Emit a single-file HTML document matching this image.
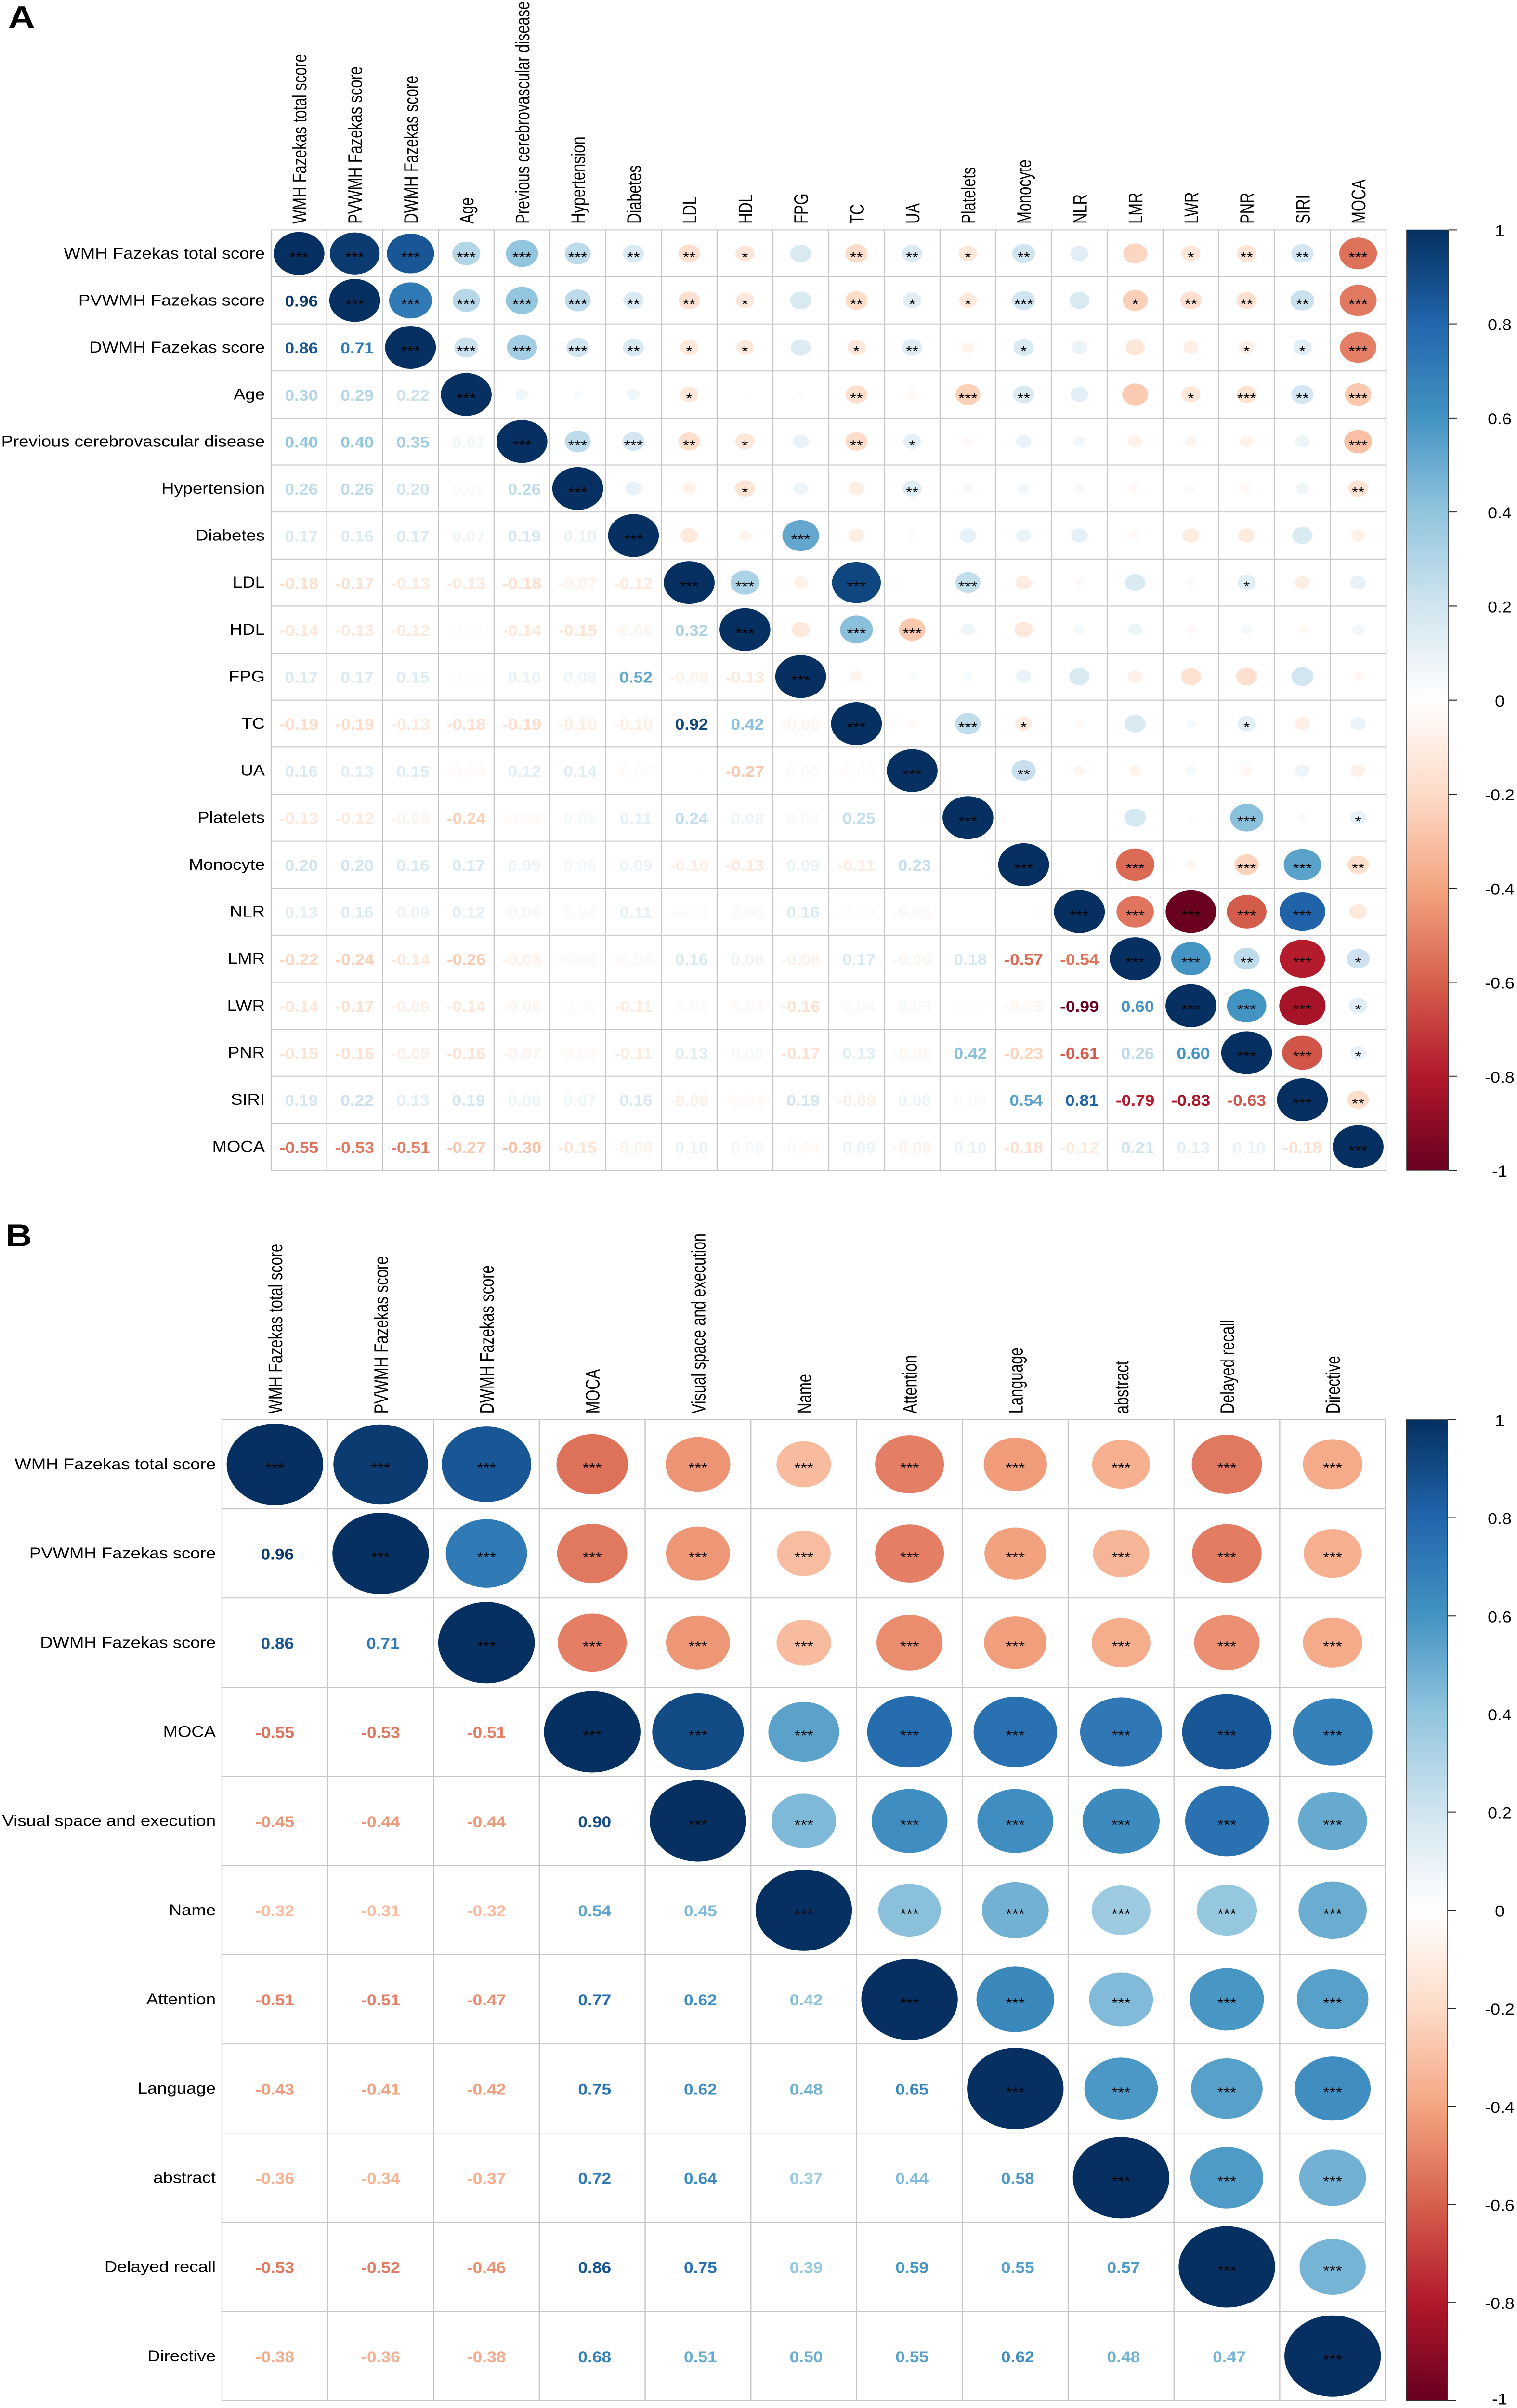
<!DOCTYPE html>
<html lang="en">
<head>
<meta charset="utf-8">
<title>Correlation matrices A and B</title>
<style>
  html, body { margin: 0; padding: 0; background: #ffffff; width: 3150px; height: 5928px; }
  svg { display: block; width: 3150px; height: 5928px; }
  text { font-family: "Liberation Sans", Arial, sans-serif; }
</style>
</head>
<body>
<svg id="figure" xmlns="http://www.w3.org/2000/svg" width="3150" height="5928" viewBox="0 0 3150 5928">
  <rect x="0" y="0" width="3150" height="5928" fill="#ffffff"/>
  <text x="17" y="69" font-size="77" font-weight="700" fill="#000">A</text>
  <text x="11" y="3068" font-size="77" font-weight="700" fill="#000">B</text>
  <defs id="defs"></defs>
</svg>
<script>
// ---------- Panel A data ----------
const panelALabels = ["WMH Fazekas total score","PVWMH Fazekas score","DWMH Fazekas score","Age","Previous cerebrovascular disease","Hypertension","Diabetes","LDL","HDL","FPG","TC","UA","Platelets","Monocyte","NLR","LMR","LWR","PNR","SIRI","MOCA"];
// lower triangle correlations, row by row
const panelAValues = [
  [],
  [0.96],
  [0.86,0.71],
  [0.30,0.29,0.22],
  [0.40,0.40,0.35,0.07],
  [0.26,0.26,0.20,0.03,0.26],
  [0.17,0.16,0.17,0.07,0.19,0.10],
  [-0.18,-0.17,-0.13,-0.13,-0.18,-0.07,-0.12],
  [-0.14,-0.13,-0.12,-0.01,-0.14,-0.15,-0.06,0.32],
  [0.17,0.17,0.15,0.02,0.10,0.08,0.52,-0.08,-0.13],
  [-0.19,-0.19,-0.13,-0.18,-0.19,-0.10,-0.10,0.92,0.42,-0.06],
  [0.16,0.13,0.15,-0.04,0.12,0.14,-0.03,0.01,-0.27,0.03,-0.03],
  [-0.13,-0.12,-0.06,-0.24,-0.04,0.05,0.11,0.24,0.08,0.04,0.25,0.01],
  [0.20,0.20,0.16,0.17,0.09,0.06,0.09,-0.10,-0.13,0.09,-0.11,0.23,0.01],
  [0.13,0.16,0.09,0.12,0.06,0.04,0.11,-0.03,0.05,0.16,-0.03,-0.05,0.01,0.01],
  [-0.22,-0.24,-0.14,-0.26,-0.08,-0.04,-0.04,0.16,0.08,-0.08,0.17,-0.06,0.18,-0.57,-0.54],
  [-0.14,-0.17,-0.09,-0.14,-0.06,-0.03,-0.11,0.03,-0.04,-0.16,0.04,0.05,0.02,-0.05,-0.99,0.60],
  [-0.15,-0.16,-0.09,-0.16,-0.07,-0.04,-0.11,0.13,0.05,-0.17,0.13,-0.05,0.42,-0.23,-0.61,0.26,0.60],
  [0.19,0.22,0.13,0.19,0.08,0.07,0.16,-0.09,-0.04,0.19,-0.09,0.08,0.03,0.54,0.81,-0.79,-0.83,-0.63],
  [-0.55,-0.53,-0.51,-0.27,-0.30,-0.15,-0.08,0.10,0.06,-0.04,0.09,-0.08,0.10,-0.18,-0.12,0.21,0.13,0.10,-0.18]
];
// upper triangle significance stars (count), row by row, starting right of the diagonal
const panelAStars = [
  [3,3,3,3,3,2,2,1,0,2,2,1,2,0,0,1,2,2,3],
  [3,3,3,3,2,2,1,0,2,1,1,3,0,1,2,2,2,3],
  [3,3,3,2,1,1,0,1,2,0,1,0,0,0,1,1,3],
  [0,0,0,1,0,0,2,0,3,2,0,0,1,3,2,3],
  [3,3,2,1,0,2,1,0,0,0,0,0,0,0,3],
  [0,0,1,0,0,2,0,0,0,0,0,0,0,2],
  [0,0,3,0,0,0,0,0,0,0,0,0,0],
  [3,0,3,0,3,0,0,0,0,1,0,0],
  [0,3,3,0,0,0,0,0,0,0,0],
  [0,0,0,0,0,0,0,0,0,0],
  [0,3,1,0,0,0,1,0,0],
  [0,2,0,0,0,0,0,0],
  [0,0,0,0,3,0,1],
  [0,3,0,3,3,2],
  [3,3,3,3,0],
  [3,2,3,1],
  [3,3,1],
  [3,1],
  [2],
  []
];

// ---------- Panel B data ----------
const panelBLabels = ["WMH Fazekas total score","PVWMH Fazekas score","DWMH Fazekas score","MOCA","Visual space and execution","Name","Attention","Language","abstract","Delayed recall","Directive"];
const panelBValues = [
  [],
  [0.96],
  [0.86,0.71],
  [-0.55,-0.53,-0.51],
  [-0.45,-0.44,-0.44,0.90],
  [-0.32,-0.31,-0.32,0.54,0.45],
  [-0.51,-0.51,-0.47,0.77,0.62,0.42],
  [-0.43,-0.41,-0.42,0.75,0.62,0.48,0.65],
  [-0.36,-0.34,-0.37,0.72,0.64,0.37,0.44,0.58],
  [-0.53,-0.52,-0.46,0.86,0.75,0.39,0.59,0.55,0.57],
  [-0.38,-0.36,-0.38,0.68,0.51,0.50,0.55,0.62,0.48,0.47]
];
const panelBStars = [
  [3,3,3,3,3,3,3,3,3,3],
  [3,3,3,3,3,3,3,3,3],
  [3,3,3,3,3,3,3,3],
  [3,3,3,3,3,3,3],
  [3,3,3,3,3,3],
  [3,3,3,3,3],
  [3,3,3,3],
  [3,3,3],
  [3,3],
  [3],
  []
];

// ---------- Colour bar ticks ----------
const colorbarTicks = [1,0.8,0.6,0.4,0.2,0,-0.2,-0.4,-0.6,-0.8,-1];
const colorbarTickLabels = ["1","0.8","0.6","0.4","0.2","0","-0.2","-0.4","-0.6","-0.8","-1"];
// RdBu palette from value -1 to +1 in equal steps
const palette = ["#67001F","#B2182B","#D6604D","#F4A582","#FDDBC7","#FFFFFF","#D1E5F0","#92C5DE","#4393C3","#2166AC","#053061"];

const NS = "http://www.w3.org/2000/svg";
const svg = document.getElementById("figure");
const defs = document.getElementById("defs");

function make(tag, attrs, parent, content) {
  const el = document.createElementNS(NS, tag);
  for (const k in attrs) el.setAttribute(k, attrs[k]);
  if (content !== undefined) el.textContent = content;
  (parent || svg).appendChild(el);
  return el;
}
function hexRgb(h) {
  return [parseInt(h.slice(1,3),16), parseInt(h.slice(3,5),16), parseInt(h.slice(5,7),16)];
}
function colorOf(v) {
  const t = Math.max(0, Math.min(1, (v + 1) / 2)) * (palette.length - 1);
  const i = Math.min(palette.length - 2, Math.floor(t));
  const f = t - i;
  const a = hexRgb(palette[i]);
  const b = hexRgb(palette[i + 1]);
  const c = a.map(function (x, k) { return Math.round(x + (b[k] - x) * f); });
  return "rgb(" + c.join(",") + ")";
}

function drawPanel(prefix, labels, values, stars, left, top, right, bottom, cbLeft, cbRight, gradId) {
  const n = labels.length;
  const cw = (right - left) / n;
  const ch = (bottom - top) / n;
  const xCol = function (c) { return left + cw * (c + 0.5); };
  const yRow = function (r) { return top + ch * (r + 0.5); };
  const radius = function (v) { return 0.456 * cw * Math.sqrt(Math.abs(v)); };

  const g = make("g", {});
  
  

  // grid
  for (let i = 0; i <= n; i++) {
    const v = make("line", { x1: left + cw * i, x2: left + cw * i, y1: top, y2: bottom, stroke: "#c6c6c6", "stroke-width": 2.4 }, g);
    
    
    const h = make("line", { x1: left, x2: right, y1: top + ch * i, y2: top + ch * i, stroke: "#c6c6c6", "stroke-width": 2.4 }, g);
    
    
  }

  // axis labels
  labels.forEach(function (lab, i) {
    const rowLab = make("text", {
      transform: "translate(" + (left - 13) + "," + (yRow(i) + 12.5) + ") scale(0.96,1)",
      "text-anchor": "end", "font-size": 38, fill: "#000"
    }, g, lab);
    
    
    const colLab = make("text", {
      transform: "translate(" + (xCol(i) + 15) + "," + (top - 15) + ") rotate(-90) scale(0.89,1)",
      "text-anchor": "start", "font-size": 41, fill: "#000"
    }, g, lab);
    
    
  });

  function drawCircle(r, c, v, count) {
    const circ = make("circle", { cx: xCol(c), cy: yRow(r), r: radius(v), fill: colorOf(v) }, g);
    
    
    if (count > 0) {
      const st = make("text", { x: xCol(c), y: yRow(r) + 21, "text-anchor": "middle", "font-size": 34, fill: "#000" }, g, "*".repeat(count));
      
      
    }
  }

  // diagonal and upper triangle circles, lower triangle numbers
  for (let r = 0; r < n; r++) {
    drawCircle(r, r, 1, 3);
    for (let c = r + 1; c < n; c++) {
      drawCircle(r, c, values[c][r], stars[r][c - r - 1]);
    }
    for (let c = 0; c < r; c++) {
      const v = values[r][c];
      const shift = v >= 0 ? 5 : 0;
      const num = make("text", {
        transform: "translate(" + (xCol(c) + shift) + "," + (yRow(r) + 15) + ") scale(0.93,1)",
        "text-anchor": "middle", "font-size": 38, "font-weight": 700, fill: colorOf(v)
      }, g, v.toFixed(2));
      
      
    }
  }

  // colour bar
  const grad = make("linearGradient", { id: gradId, x1: 0, y1: 1, x2: 0, y2: 0 }, defs);
  palette.forEach(function (col, i) {
    make("stop", { offset: i / (palette.length - 1), "stop-color": col }, grad);
  });
  const bar = make("rect", { x: cbLeft, y: top, width: cbRight - cbLeft, height: bottom - top, fill: "url(#" + gradId + ")", stroke: "#333", "stroke-width": 1.6 }, g);
  
  
  const yBar = function (v) { return bottom - (v + 1) / 2 * (bottom - top); };
  colorbarTicks.forEach(function (v, i) {
    const tick = make("line", { x1: cbRight, x2: cbRight + 17, y1: yBar(v), y2: yBar(v), stroke: "#222", "stroke-width": 2.4 }, g);
    
    
    // baseline is kept far enough above the page bottom for the font box to stay inside the frame
    const baseline = Math.min(yBar(v) + 15.5, 5919);
    const tl = make("text", {
      transform: "translate(3114," + baseline + ") scale(0.94,1)",
      "text-anchor": "middle", "font-size": 38, fill: "#000"
    }, g, colorbarTickLabels[i]);
    
    
  });
}

drawPanel("panel-a", panelALabels, panelAValues, panelAStars, 563, 566, 2878, 2881, 2921, 3008, "gradA");
drawPanel("panel-b", panelBLabels, panelBValues, panelBStars, 461, 3495, 2877, 5910, 2920, 3006, "gradB");

// Fit the figure to the viewport when it is shorter than the nominal 5928px frame
const viewportHeight = window.innerHeight;
if (viewportHeight >= 4000 && viewportHeight < 5928) {
  svg.setAttribute("preserveAspectRatio", "none");
  svg.setAttribute("height", viewportHeight);
  svg.style.height = viewportHeight + "px";
  document.documentElement.style.height = viewportHeight + "px";
  document.body.style.height = viewportHeight + "px";
}
</script>
</body>
</html>
